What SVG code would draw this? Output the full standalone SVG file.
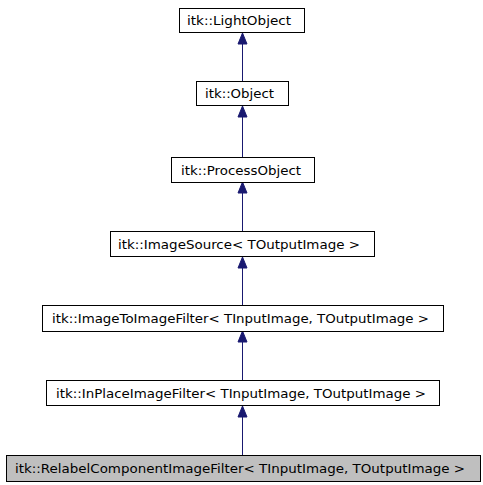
<svg xmlns="http://www.w3.org/2000/svg" width="483" height="485" viewBox="0 0 483 485">
<style>
.box{fill:#ffffff;stroke:#000000;stroke-width:1}
.cur{fill:#bfbfbf;stroke:#000000;stroke-width:1}
text{font-family:"DejaVu Sans",sans-serif;font-size:12px;fill:#000000;text-anchor:middle}
.edge{stroke:#191970;stroke-width:1;fill:none}
.head{fill:#191970;stroke:#191970}
</style>
<rect width="483" height="485" fill="#ffffff"/>
<g id="edges">
<line class="edge" x1="242.5" y1="44" x2="242.5" y2="81"/>
<polygon class="head" points="242.5,33 238,44 247,44"/>
<line class="edge" x1="242.5" y1="117" x2="242.5" y2="157"/>
<polygon class="head" points="242.5,106 238,117 247,117"/>
<line class="edge" x1="242.5" y1="193" x2="242.5" y2="231"/>
<polygon class="head" points="242.5,182 238,193 247,193"/>
<line class="edge" x1="242.5" y1="268" x2="242.5" y2="305"/>
<polygon class="head" points="242.5,257 238,268 247,268"/>
<line class="edge" x1="242.5" y1="342" x2="242.5" y2="380"/>
<polygon class="head" points="242.5,331 238,342 247,342"/>
<line class="edge" x1="242.5" y1="417" x2="242.5" y2="455"/>
<polygon class="head" points="242.5,406 238,417 247,417"/>
</g>
<g id="LightObject"><rect class="box" x="179.5" y="8.5" width="125" height="24"/><text x="239" y="25" textLength="104" lengthAdjust="spacingAndGlyphs">itk::LightObject</text></g>
<g id="Object"><rect class="box" x="196.5" y="81.5" width="92" height="24"/><text x="239.5" y="98" textLength="69" lengthAdjust="spacingAndGlyphs">itk::Object</text></g>
<g id="ProcessObject"><rect class="box" x="171.5" y="157.5" width="143" height="25"/><text x="241" y="174.5" textLength="120" lengthAdjust="spacingAndGlyphs">itk::ProcessObject</text></g>
<g id="ImageSource"><rect class="box" x="110.5" y="231.5" width="264" height="25"/><text x="239" y="248.5" textLength="242" lengthAdjust="spacingAndGlyphs">itk::ImageSource&lt; TOutputImage &gt;</text></g>
<g id="ImageToImageFilter"><rect class="box" x="42.5" y="305.5" width="401" height="26"/><text x="240.5" y="322.5" textLength="377" lengthAdjust="spacingAndGlyphs">itk::ImageToImageFilter&lt; TInputImage, TOutputImage &gt;</text></g>
<g id="InPlaceImageFilter"><rect class="box" x="46.5" y="380.5" width="393" height="25"/><text x="241" y="397.5" textLength="370" lengthAdjust="spacingAndGlyphs">itk::InPlaceImageFilter&lt; TInputImage, TOutputImage &gt;</text></g>
<g id="RelabelComponentImageFilter"><rect class="cur" x="6.5" y="455.5" width="474" height="26"/><text x="240" y="472.5" textLength="450" lengthAdjust="spacingAndGlyphs">itk::RelabelComponentImageFilter&lt; TInputImage, TOutputImage &gt;</text></g>
</svg>
